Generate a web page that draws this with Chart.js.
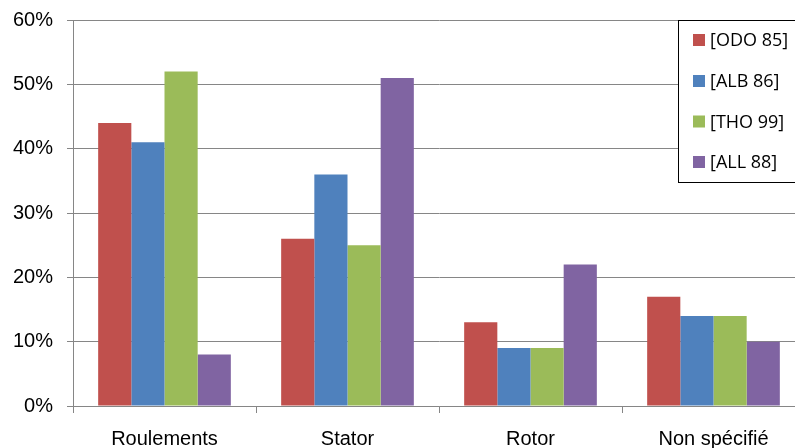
<!DOCTYPE html>
<html>
<head>
<meta charset="utf-8">
<script src="https://cdn.jsdelivr.net/npm/chart.js@4"></script>
<style>
html,body{margin:0;padding:0;background:#fff;overflow:hidden;}
#wrap{width:830px;height:448px;position:relative;}
</style>
</head>
<body>
<div id="wrap"><canvas id="c" width="830" height="448"></canvas></div>
<script>
const categories = ["Roulements", "Stator", "Rotor", "Non spécifié"];
const seriesNames = ["[ODO 85]", "[ALB 86]", "[THO 99]", "[ALL 88]"];
const odo85 = [44, 26, 13, 17];
const alb86 = [41, 36, 9, 14];
const tho99 = [52, 25, 9, 14];
const all88 = [8, 51, 22, 10];
const yTicks = [0, 10, 20, 30, 40, 50, 60];
const colors = ["#C0504D", "#4F81BD", "#9BBB59", "#8064A2"];

const seriesValues = [odo85, alb86, tho99, all88];

const boxLegend = {
  id: 'boxLegend',
  afterDraw(chart) {
    const ctx = chart.ctx;
    ctx.save();
    ctx.fillStyle = '#fff';
    ctx.fillRect(678.5, 20.5, 160, 162);
    ctx.strokeStyle = '#000';
    ctx.lineWidth = 1;
    ctx.strokeRect(678.5, 20.5, 160, 162);
    ctx.font = '18px "Open Sans"';
    ctx.textBaseline = 'middle';
    const rows = [40, 81, 121.5, 162];
    seriesNames.forEach((n, i) => {
      ctx.fillStyle = colors[i];
      ctx.fillRect(693, rows[i] - 6, 12, 12);
      ctx.fillStyle = '#000';
      ctx.fillText(n, 710, rows[i] + 1);
    });
    ctx.restore();
  }
};

new Chart(document.getElementById('c'), {
  type: 'bar',
  data: {
    labels: categories,
    datasets: seriesNames.map((n, i) => ({
      label: n,
      data: seriesValues[i],
      backgroundColor: colors[i],
      borderWidth: 0,
      categoryPercentage: 0.725,
      barPercentage: 1.0
    }))
  },
  options: {
    responsive: false,
    animation: false,
    layout: { padding: { top: 20, right: 25, left: 0, bottom: 0 } },
    plugins: { legend: { display: false }, tooltip: { enabled: false } },
    scales: {
      x: {
        grid: { display: true, drawOnChartArea: false, offset: true, tickLength: 7, color: '#868686' },
        border: { color: '#868686' },
        ticks: { color: '#000', font: { family: 'Liberation Sans', size: 20 }, padding: 14, maxRotation: 0 },
        afterFit(s) { s.height = 42; }
      },
      y: {
        min: 0, max: 60,
        afterBuildTicks(s) { s.ticks = yTicks.map(v => ({ value: v })); },
        grid: { color: '#868686', tickLength: 6 },
        border: { color: '#868686' },
        ticks: { color: '#000', font: { family: 'Liberation Sans', size: 20 }, padding: 14, callback: v => v + '%' },
        afterFit(s) { s.width = 73; s.paddingTop = 0; }
      }
    }
  },
  plugins: [boxLegend, {
    id: 'fixArea',
    beforeLayout(chart) {},
    afterLayout(chart) {}
  }]
});
</script>
</body>
</html>
